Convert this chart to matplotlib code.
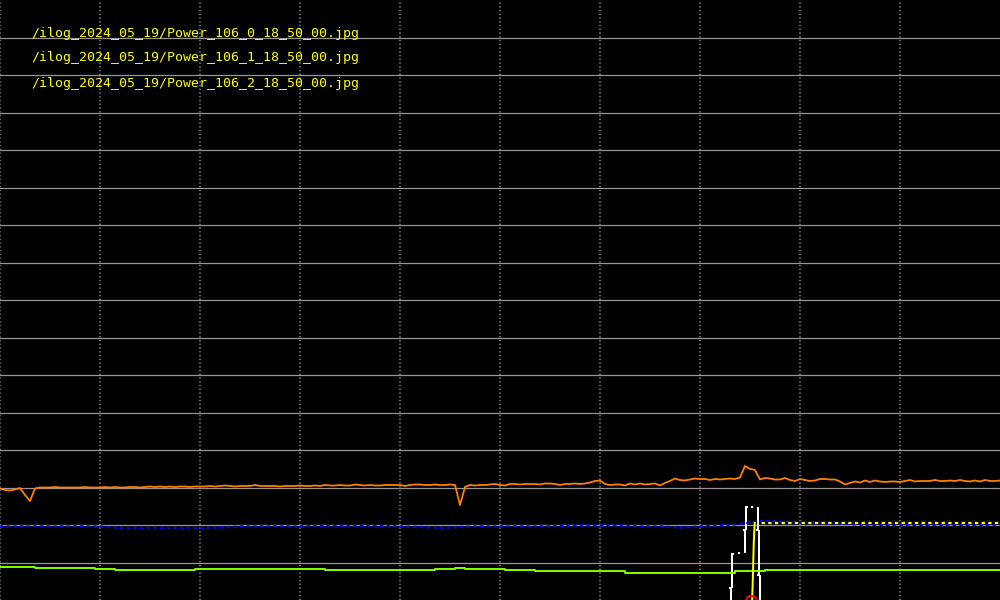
import matplotlib
matplotlib.use("Agg")
import matplotlib.pyplot as plt
import numpy as np

plt.rcParams['lines.scale_dashes'] = False

# scope screen: 10 x 16 divisions, 37.5 counts per division
COUNTS_PER_DIV = 37.5
N_XDIV = 10
N_YDIV = 16

files = [
    "/ilog_2024_05_19/Power_106_0_18_50_00.jpg",
    "/ilog_2024_05_19/Power_106_1_18_50_00.jpg",
    "/ilog_2024_05_19/Power_106_2_18_50_00.jpg",
]

# channel 1 (orange), offset 3 div, one sample every 0.05 div
orange_step = 0.05
orange_offset = 3.0
orange = [
    -1, -2.5, -3, -2, -0.5, -7.5, -13.5, -1, 0, 0, 0, 0.5, 0, 0, 0, 0, 0, 0.5, 0, 0,
    0, 0.5, 0, 0.5, 0, 0, 0.5, 0.5, 0, 0.5, 1, 0.5, 1, 0.5, 1, 0.5, 1, 1, 0.5, 1,
    1, 1, 1.5, 1, 1.5, 2, 1.5, 1, 1.5, 1.5, 1.5, 2.5, 1.5, 1.5, 1.5, 1.5, 1, 1.5, 1.5, 1.5,
    2, 1.5, 1.5, 2, 1.5, 2.5, 2, 2, 2.5, 2, 2, 3, 2.5, 2, 2.5, 2, 2, 2.5, 2.5, 2.5,
    2.5, 1.5, 2.5, 3, 3, 2.5, 2.5, 3, 2.5, 2.5, 3, 2.5, -17.5, 0.5, 2.5, 2, 2.5, 2.5, 3, 3.5,
    2.5, 2, 3.5, 3.5, 3, 3.5, 3.5, 3.5, 3, 4, 4, 3.5, 2.5, 3.5, 3.5, 4, 3.5, 4, 5, 6.5,
    7, 3.5, 2.5, 3, 3, 2, 4, 3, 4, 3, 3.5, 4, 2, 4.5, 6.5, 9, 7.5, 7, 8, 9,
    8.5, 8.5, 7.5, 8.5, 8, 8.5, 9, 8.5, 10, 21.5, 18.5, 17.5, 8, 9.5, 9, 8, 8, 9.5, 7.5, 6.5,
    8.5, 7.5, 6.5, 7, 8.5, 8.5, 8, 8, 6, 3, 4.5, 6, 5, 7, 5.5, 7, 6, 5.5, 6, 6,
    5.5, 6.5, 7.5, 6, 6.5, 6.5, 6.5, 7.5, 6.5, 6.5, 7, 6.5, 7.5, 6.5, 6, 7, 6, 7.5, 6.5, 6.5,
    7,
]

# channel 2 (blue), offset 2 div, one sample every 0.2 div
blue_step = 0.2
blue_offset = 2.0
blue = [
    -1.5, -1.5, -1.5, -1.5, -1.5, -1.5, -3, -3, -3, -3, -3, -2.5, -1.5, -1.5, -1.5, -1.5, -1, -1, -1, -1,
    -1.5, -2, -3, -2, -1.5, -1.5, -1.5, -1.5, -1, -0.5, -0.5, -0.5, -1.5, -1.5, -2.5, -1.5, -0.5, 1, 4, 3.5,
    2.5, 2, 1.5, 0.5, 0, 0, 0, 0, 0, 0, 0.5,
]

# channel 3 (green), offset 1 div, one sample every 0.1 div
green_step = 0.1
green_offset = 1.0
green = [
    -4, -4, -4, -4.5, -5, -5, -5, -5, -5.5, -5.5, -6.5, -6.5, -7.5, -7.5, -7.5, -7.5, -7.5, -7, -7, -7,
    -6, -6, -6, -6, -6, -6, -6, -6, -6, -6.5, -6.5, -6.5, -6.5, -7, -7, -7, -7, -7, -7, -7,
    -7, -7, -7, -7, -6, -6, -5.5, -6, -6, -6, -6.5, -7, -7, -7.5, -8, -8, -8, -8, -8, -8,
    -8, -8, -8, -10, -10, -10, -10, -10, -10, -10, -10, -10, -10, -10, -8, -8, -8, -7, -7, -7,
    -7, -7, -7, -7, -7, -7, -7.5, -7, -7, -7, -7, -7, -7, -7, -7.5, -7, -7, -7, -7, -7,
    -7,
]

# channels referenced to the bottom of the screen
white_t = [7.29, 7.305, 7.32, 7.39, 7.445, 7.46, 7.52, 7.575, 7.585, 7.60]
white = [-5, 12, 46, 47.5, 70, 93, 93, 70, 25, -5]

yellow_t = [7.52, 7.528, 7.538, 7.547, 7.565, 8.0, 8.5, 9.0, 9.5, 10.0]
yellow = [-5, 20, 58, 77, 77.5, 77.5, 77.5, 77.5, 77.5, 77.5]

red_t = [7.45, 7.47, 7.49, 7.51, 7.53, 7.55, 7.57, 7.58]
red = [-5, 2, 4, 3.5, 4, 3, 0, -5]


def to_div(counts, offset=0.0):
    return offset + np.asarray(counts, dtype=float) / COUNTS_PER_DIV


def scope_trace(ax, t, v, color, lw=1.45, dot=0.015):
    # draw like the scope does: a vertical stroke per sample plus a dot
    y = to_div(v)
    for i in range(1, len(t)):
        ax.vlines(t[i], min(y[i - 1], y[i]), max(y[i - 1], y[i]), color=color, lw=lw)
        ax.hlines(y[i], t[i] - dot, t[i] + dot, color=color, lw=lw)


fig = plt.figure(figsize=(10, 6), dpi=100, facecolor='black')
ax = fig.add_axes([0, 0, 1, 1])
ax.set_facecolor('black')
ax.set_xlim(0, N_XDIV)
ax.set_ylim(0, N_YDIV)
ax.axis('off')

grid_col = '#969696'
for k in range(1, N_YDIV):
    ax.axhline(k, color=grid_col, lw=0.9, zorder=1)
for k in range(0, N_XDIV):
    ax.axvline(k, color='#7c7c7c', lw=1.3, ls=(0, (0.95, 1.75)),
               dash_capstyle='butt', zorder=1)

t_orange = np.arange(len(orange)) * orange_step
ax.plot(t_orange, to_div(orange, orange_offset), color='#ff8000', lw=1.3, zorder=3)

t_green = np.arange(len(green)) * green_step
ax.plot(t_green, to_div(green, green_offset), color='#80ff00', lw=1.4,
        drawstyle='steps-mid', zorder=3)

t_blue = np.arange(len(blue)) * blue_step
ax.plot(t_blue, to_div(blue, blue_offset), color='#0000ff', lw=1.7,
        ls=(0, (2.4, 2.4)), dash_capstyle='butt', zorder=3)

ax.plot(yellow_t[:4], to_div(yellow[:4]), color='#ffff00', lw=1.45, zorder=4)
ax.plot(yellow_t[4:], to_div(yellow[4:]), color='#ffff00', lw=1.6,
        ls=(1.5, (2.4, 2.4)), dash_capstyle='butt', zorder=4)

ax.plot(red_t, to_div(red), color='#ff0000', lw=1.45, zorder=4)

scope_trace(ax, white_t, white, 'white')

for i, name in enumerate(files):
    ax.text(0.031, 1 - (33 + 25 * i) / 600, name, transform=ax.transAxes,
            color='#ffff00', fontsize=9.5, family='DejaVu Sans Mono',
            ha='left', va='center', zorder=5)

fig.savefig('out.png', dpi=100, facecolor='black')
